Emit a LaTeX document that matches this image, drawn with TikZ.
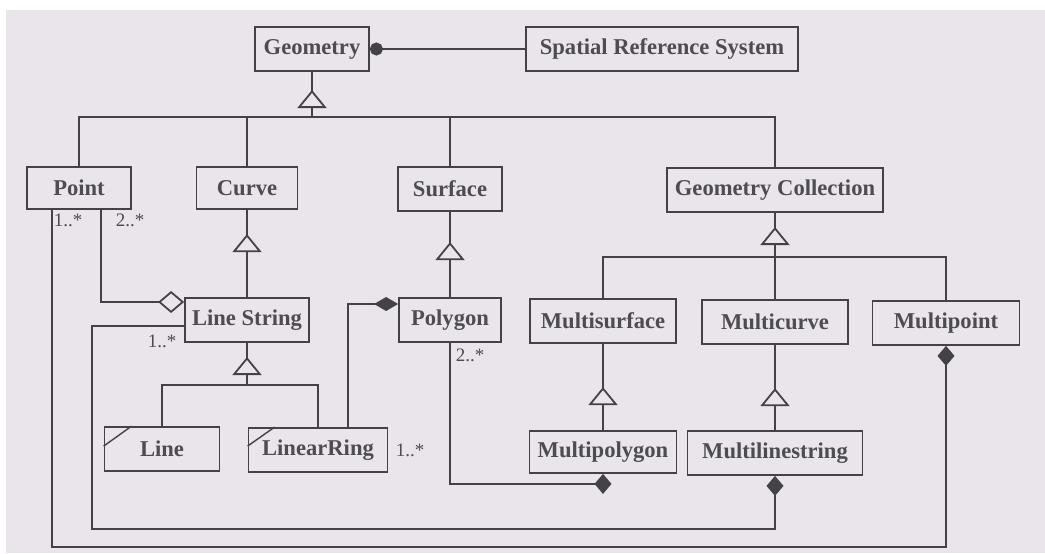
\documentclass[tikz,border=0pt]{standalone}
\usepackage{fontspec}
\setmainfont{Liberation Serif}
\usetikzlibrary{arrows.meta,decorations.markings}

\definecolor{bgc}{RGB}{233,229,235}
\definecolor{linec}{RGB}{68,66,70}
\definecolor{textc}{RGB}{78,76,80}

\tikzset{
  box/.style={draw=linec, line width=0.9pt, inner sep=0pt, text=textc,
    font=\fontsize{11.3pt}{13pt}\selectfont\bfseries, minimum height=22pt},
  wire/.style={draw=linec, line width=0.9pt, line join=miter},
  genline/.style={wire, postaction={decorate},
    decoration={markings, mark=at position #1 with
      {\arrow{Triangle[length=9pt, width=14.5pt, fill=bgc, line join=miter]}}}},
  composite/.style={wire, {Diamond[length=10pt, width=8.5pt]}-},
  compositeend/.style={wire, -{Diamond[length=10pt, width=8.5pt]}},
  aggregate/.style={wire, {Diamond[length=13pt, width=11pt, fill=bgc]}-},
  mult/.style={text=textc, inner sep=0pt, font=\fontsize{9.5pt}{11pt}\selectfont},
  slash/.style={draw=linec, line width=0.7pt}
}

\begin{document}
\begin{tikzpicture}[x=0.5pt, y=-0.5pt]
  \useasboundingbox (0,0) rectangle (1045,553);
  \fill[white] (0,0) rectangle (1045,553);
  \fill[bgc] (6,10) rectangle (1045,553);

  % classes
  \node[box, minimum width=57pt]   (geom)    at (312,49)  {Geometry};
  \node[box, minimum width=136pt]  (srs)     at (662,49)  {Spatial Reference System};
  \node[box, minimum width=52pt, minimum height=21pt] (point) at (79,188) {Point};
  \node[box, minimum width=50.5pt, minimum height=21pt] (curve) at (247,188) {Curve};
  \node[box, minimum width=52pt]   (surface) at (450,189) {Surface};
  \node[box, minimum width=108pt]  (gcoll)   at (775,190) {Geometry Collection};
  \node[box, minimum width=62pt]   (ls)      at (247,320) {Line String};
  \node[box, minimum width=51pt]   (poly)    at (450,320) {Polygon};
  \node[box, minimum width=73pt]   (msurf)   at (603,321) {Multisurface};
  \node[box, minimum width=73pt]   (mcurve)  at (775,322) {Multicurve};
  \node[box, minimum width=73.5pt] (mpoint)  at (946,323) {Multipoint};
  \node[box, minimum width=57.5pt] (line)    at (162,449) {Line};
  \node[box, minimum width=69.5pt] (lring)   at (318,450) {LinearRing};
  \node[box, minimum width=73.5pt, minimum height=21pt] (mpoly) at (603,452) {Multipolygon};
  \node[box, minimum width=87.5pt] (mline)   at (775,453) {Multilinestring};

  % corner marks of Line and LinearRing
  \draw[slash] ([yshift=-10pt]line.north west) -- ([xshift=14pt]line.north west);
  \draw[slash] ([yshift=-9.5pt]lring.north west) -- ([xshift=13.5pt]lring.north west);

  % junctions of the generalisation trees and bends of the associations
  \coordinate (gj) at (312,117);
  \coordinate (cj) at (775,257);
  \coordinate (lj) at (247,385);
  \coordinate (outer) at (52,547);
  \coordinate (inner) at (92,529);
  \coordinate (pcorner) at (603,484);

  % generalisations
  \draw[wire] (point.north) |- (gj) -| (gcoll.north);
  \draw[wire] (curve.north) -- (curve.north |- gj);
  \draw[wire] (surface.north) -- (surface.north |- gj);
  \draw[genline=13.5pt] (gj) -- (geom.south);

  \draw[genline=31.5pt] (ls.north) -- (curve.south);
  \draw[genline=27.5pt] (poly.north) -- (surface.south);

  \draw[wire] (msurf.north) |- (cj) -| (mpoint.north);
  \draw[wire] (mcurve.north) -- (cj);
  \draw[genline=15pt] (cj) -- (gcoll.south);

  \draw[wire] (line.north) |- (lj) -| (lring.north);
  \draw[genline=14pt] (lj) -- (ls.south);

  \draw[genline=21.5pt] (mpoly.north) -- (msurf.south);
  \draw[genline=21pt] (mline.north) -- (mcurve.south);

  % associations
  \draw[wire, {Circle[length=6.5pt]}-] (geom.east) -- (srs.west);
  \draw[aggregate] ([yshift=9pt]ls.west) -| ([xshift=11pt]point.south);
  \draw[composite] (mpoint.south) |- (outer) -- ([xshift=-13.5pt]point.south);
  \draw[composite] (mline.south) |- (inner) |- ([yshift=-3pt]ls.west);
  \draw[wire, {Diamond[length=12pt, width=7pt]}-] ([yshift=8pt]poly.west) -| ([xshift=15pt]lring.north);
  \draw[compositeend] (poly.south) |- (pcorner) -- (mpoly.south);

  % multiplicities
  \node[mult] (m1) at (68,220)  {1..*};
  \node[mult] (m2) at (130,220) {2..*};
  \node[mult] (m3) at (162,341) {1..*};
  \node[mult] (m4) at (470,355) {2..*};
  \node[mult] (m5) at (410,450) {1..*};
\end{tikzpicture}
\end{document}
